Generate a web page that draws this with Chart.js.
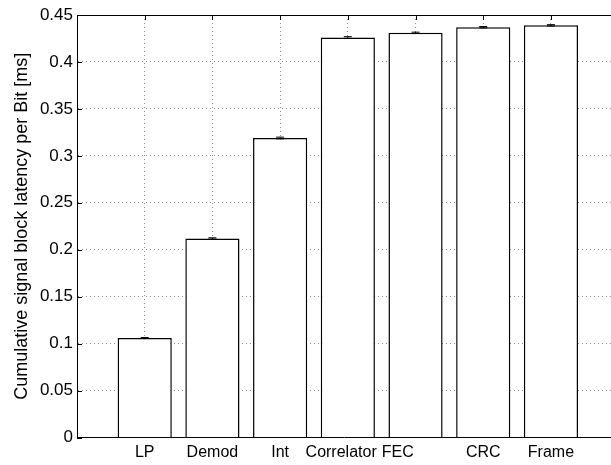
<!DOCTYPE html>
<html>
<head>
<meta charset="utf-8">
<style>
  html, body { margin: 0; padding: 0; background: #fff; overflow: hidden; }
  #wrap { width: 611px; height: 465px; position: relative; }
</style>
<script src="https://cdn.jsdelivr.net/npm/chart.js@4/dist/chart.umd.min.js"></script>
</head>
<body>
<div id="wrap"><canvas id="c" width="611" height="465"></canvas></div>
<script>
const categories = ['LP', 'Demod', 'Int', 'Correlator', 'FEC', 'CRC', 'Frame'];
const latency = [0.106, 0.212, 0.319, 0.426, 0.431, 0.437, 0.439];
const latencyErr = [0.0005, 0.0007, 0.0009, 0.0009, 0.0007, 0.0007, 0.0007];
const yTicks = [0, 0.05, 0.1, 0.15, 0.2, 0.25, 0.3, 0.35, 0.4, 0.45];

const FONT = '"Liberation Sans", Arial, Helvetica, sans-serif';
// trailing padding (in spaces) that nudges two crowded labels left, as in the original
const labelPad = { 'Correlator': 3, 'FEC': 8 };

const matlabPlugin = {
  id: 'matlab',
  afterDatasetsDraw(chart) {
    const ctx = chart.ctx;
    const a = chart.chartArea;
    const xs = chart.scales.x, ys = chart.scales.y;
    ctx.save();
    ctx.strokeStyle = '#000';
    ctx.lineWidth = 1;
    // error bars
    latency.forEach((v, i) => {
      const x = xs.getPixelForValue(i + 1);
      const y1 = ys.getPixelForValue(v - latencyErr[i]);
      const y2 = ys.getPixelForValue(v + latencyErr[i]);
      ctx.beginPath();
      ctx.moveTo(x, y1); ctx.lineTo(x, y2);
      ctx.moveTo(x - 4, y1); ctx.lineTo(x + 4, y1);
      ctx.moveTo(x - 4, y2); ctx.lineTo(x + 4, y2);
      ctx.stroke();
    });
    // top border
    ctx.beginPath();
    ctx.moveTo(a.left, Math.round(a.top) + 0.5);
    ctx.lineTo(a.right, Math.round(a.top) + 0.5);
    ctx.stroke();
    // top ticks
    categories.forEach((c, i) => {
      const x = Math.round(xs.getPixelForValue(i + 1)) + 0.5;
      ctx.beginPath();
      ctx.moveTo(x, a.top);
      ctx.lineTo(x, a.top + 5);
      ctx.stroke();
    });
    // left ticks (inward)
    yTicks.forEach(t => {
      const y = Math.round(ys.getPixelForValue(t)) + 0.5;
      ctx.beginPath();
      ctx.moveTo(a.left, y);
      ctx.lineTo(a.left + 5, y);
      ctx.stroke();
    });
    ctx.restore();
  }
};

new Chart(document.getElementById('c'), {
  type: 'bar',
  data: {
    datasets: [{
      data: latency.map((v, i) => ({ x: i + 1, y: v })),
      backgroundColor: '#ffffff',
      borderColor: '#000000',
      borderWidth: 1.5,
      barPercentage: 0.8,
      categoryPercentage: 1.0
    }]
  },
  options: {
    responsive: false,
    animation: false,
    devicePixelRatio: 1,
    layout: { padding: { top: 15, right: 0, bottom: 0, left: 0 } },
    plugins: { legend: { display: false }, tooltip: { enabled: false } },
    scales: {
      x: {
        type: 'linear',
        offset: false,
        min: 0,
        max: 7.887,
        afterBuildTicks(scale) {
          scale.ticks = categories.map((_, i) => ({ value: i + 1 }));
        },
        afterFit(scale) { scale.height = 27.5; },
        ticks: {
          autoSkip: false,
          maxRotation: 0,
          padding: 5,
          color: '#000',
          font: { family: FONT, size: 16 },
          callback: (v) => {
            const name = categories[Math.round(v) - 1] || '';
            return name + ' '.repeat(labelPad[name] || 0);
          }
        },
        grid: {
          offset: false,
          drawTicks: false,
          color: '#8c8c8c',
          lineWidth: 1
        },
        border: { display: true, color: '#000', width: 1, dash: [1, 3] }
      },
      y: {
        type: 'linear',
        min: 0,
        max: 0.45,
        afterBuildTicks(scale) {
          scale.ticks = yTicks.map(v => ({ value: v }));
        },
        afterFit(scale) { scale.width = 77; },
        ticks: {
          padding: 4,
          color: '#000',
          font: { family: FONT, size: 17 },
          callback: (v) => String(Number(v.toFixed(2)))
        },
        grid: {
          drawTicks: false,
          color: '#8c8c8c',
          lineWidth: 1
        },
        border: { display: true, color: '#000', width: 1, dash: [1, 3] },
        title: {
          display: true,
          text: 'Cumulative signal block latency per Bit [ms]',
          color: '#000',
          font: { family: FONT, size: 18 },
          padding: { top: 11, bottom: 0 }
        }
      }
    }
  },
  plugins: [matlabPlugin]
});
</script>
</body>
</html>
